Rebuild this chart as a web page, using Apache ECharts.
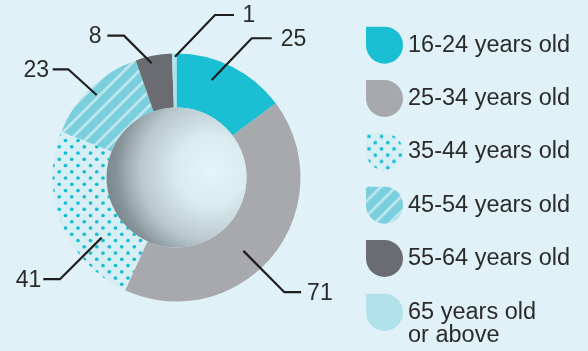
<!DOCTYPE html>
<html><head><meta charset="utf-8">
<script src="https://cdn.jsdelivr.net/npm/echarts/dist/echarts.min.js"></script>
<style>html,body{margin:0;padding:0;background:#e0f2f7}#c{width:588px;height:351px}</style>
</head><body><div id="c"></div>
<script>
// ---- data ----
const categories = ['16-24 years old', '25-34 years old', '35-44 years old', '45-54 years old', '55-64 years old', '65 years old or above'];
const values = [25, 71, 41, 23, 8, 1];

// ---- label leader-line layout (not data) ----
const labelFrac = [0.373, 0.558, 0.306, 0.492, 0.406, 0.66];   // position along the slice
const labelStartR = [103.7, 99.3, 96, 114.8, 116.9, 120.8];
const labelDX = [40, 41, 41.7, 28.4, 27.7, 40];
const labelDY = [41.7, 41.3, 41.6, 25.7, 27.6, 41.7];
const labelArm = [20, 16.7, 16.7, 15.6, 16.7, 19];
const labelSide = [1, 1, -1, -1, -1, 1];
const labelGap = [9, 6, 2, 3.5, 5.7, 8.5];

const CX = 176.5, CY = 177.5;
const FONT = '"Liberation Sans", Arial, Helvetica, sans-serif';

function dotPattern() {
  const c = document.createElement('canvas'); c.width = 25; c.height = 25;
  const g = c.getContext('2d');
  g.fillStyle = '#d6eef4'; g.fillRect(0, 0, 25, 25);
  g.fillStyle = '#19bdd1';
  for (let i = -1; i <= 2; i++) for (let j = -1; j <= 2; j++) {
    [[i * 12.5 + 3, j * 12.5 + 3], [i * 12.5 + 9.25, j * 12.5 + 9.25]].forEach(p => {
      g.beginPath(); g.arc(p[0], p[1], 1.85, 0, Math.PI * 2); g.fill();
    });
  }
  return c;
}
function stripePattern() {
  const s = 15;
  const c = document.createElement('canvas'); c.width = s; c.height = s;
  const g = c.getContext('2d');
  g.fillStyle = '#79cfdc'; g.fillRect(0, 0, s, s);
  g.strokeStyle = '#bde6ed'; g.lineWidth = 2.8;
  [0, s, 2 * s].forEach(o => {
    g.beginPath(); g.moveTo(o - s - 1, s + 1); g.lineTo(o + 1, -1); g.stroke();
  });
  return c;
}

const colors = [
  '#1bbfd3',
  '#a8a9ad',
  { image: dotPattern(), repeat: 'repeat' },
  { image: stripePattern(), repeat: 'repeat' },
  '#6b6c71',
  '#b1e1eb'
];

const total = values.reduce((a, b) => a + b, 0);

function labelLayout(params) {
  const i = params.dataIndex;
  let before = 0;
  for (let k = 0; k < i; k++) before += values[k];
  const a0 = before / total * Math.PI * 2;
  const a1 = (before + values[i]) / total * Math.PI * 2;
  const ang = a0 + labelFrac[i] * (a1 - a0);
  const sx = CX + labelStartR[i] * Math.sin(ang);
  const sy = CY - labelStartR[i] * Math.cos(ang);
  const side = labelSide[i];
  const vert = -Math.cos(ang) >= 0 ? 1 : -1;
  const ex = sx + side * labelDX[i], ey = sy + vert * labelDY[i];
  const fx = ex + side * labelArm[i];
  return {
    x: fx + side * labelGap[i],
    y: ey + 1,
    align: side > 0 ? 'left' : 'right',
    verticalAlign: 'middle',
    labelLinePoints: [[sx, sy], [ex, ey], [fx, ey]]
  };
}

const legendBase = {
  orient: 'vertical', left: 366, padding: 0,
  itemWidth: 37, itemHeight: 37, itemGap: 16.33,
  icon: 'path://M0,0L50,0A50,50,0,0,1,100,50A50,50,0,0,1,50,100A50,50,0,0,1,0,50Z',
  selectedMode: false
};
const legendText = { fontSize: 23.5, color: '#2b2b2b', fontFamily: FONT, lineHeight: 23 };

const pieData = categories.map((n, i) => ({ name: n, value: values[i] }));

const chart = echarts.init(document.getElementById('c'), null, { renderer: 'canvas' });
chart.setOption({
  backgroundColor: '#e0f2f7',
  animation: false,
  legend: [
    Object.assign({}, legendBase, { top: 26.7, data: categories.slice(0, 5), textStyle: legendText }),
    Object.assign({}, legendBase, {
      top: 277.3, data: [categories[5]],
      formatter: () => '\n65 years old\nor above',
      textStyle: legendText
    })
  ],
  graphic: [{
    type: 'circle', silent: true, z: 10,
    shape: { cx: CX, cy: CY, r: 70 },
    style: {
      fill: new echarts.graphic.RadialGradient(0.75, 0.45, 0.78, [
        { offset: 0, color: '#e4f5f9' },
        { offset: 0.32, color: '#dbecf0' },
        { offset: 0.65, color: '#b8c8cd' },
        { offset: 0.77, color: '#9dadb2' },
        { offset: 0.87, color: '#86949a' },
        { offset: 1, color: '#768388' }
      ])
    }
  }],
  series: [{
    type: 'pie',
    z: 2,
    center: [CX, CY],
    radius: [70, 124],
    startAngle: 90,
    clockwise: true,
    avoidLabelOverlap: false,
    emphasis: { disabled: true },
    data: pieData.map((d, i) => Object.assign({}, d, { itemStyle: { color: colors[i] } })),
    label: { show: false },
    labelLine: { show: false }
  }, {
    type: 'pie',
    z: 4,
    silent: true,
    center: [CX, CY],
    radius: [70, 124],
    startAngle: 90,
    clockwise: true,
    avoidLabelOverlap: false,
    emphasis: { disabled: true },
    itemStyle: { color: 'rgba(0,0,0,0)' },
    data: pieData,
    label: { show: true, position: 'outside', formatter: '{c}', fontSize: 23, color: '#2b2b2b', fontFamily: FONT },
    labelLine: { show: true, length: 10, length2: 10, lineStyle: { color: '#1e1e1e', width: 2.2 } },
    labelLayout: labelLayout
  }]
});
</script>
</body></html>
